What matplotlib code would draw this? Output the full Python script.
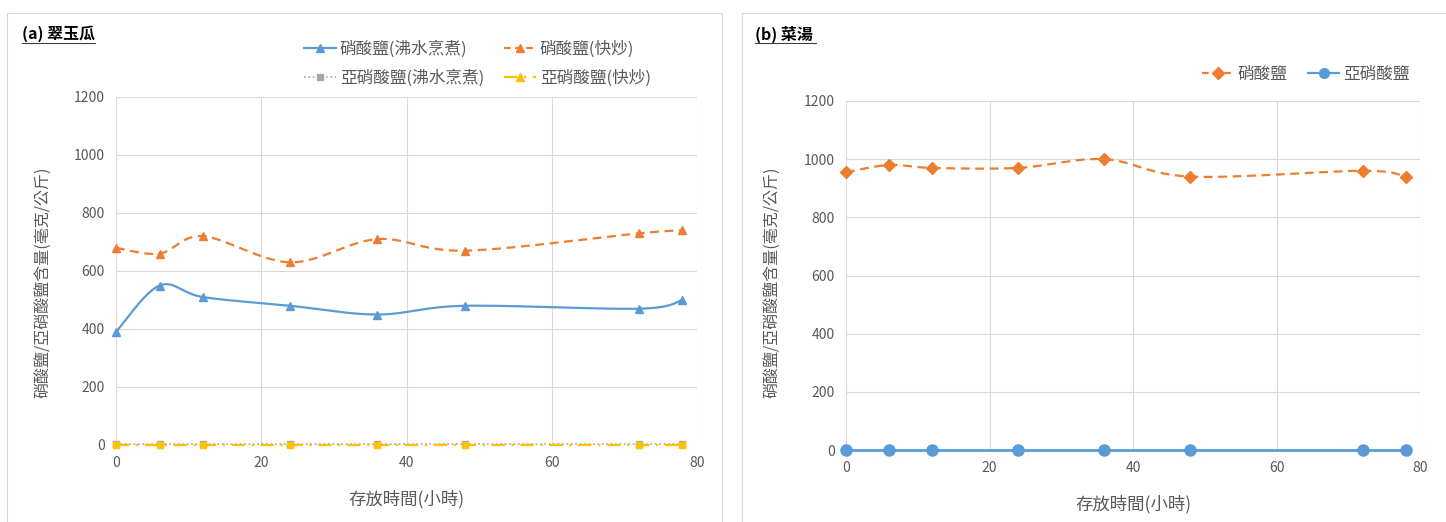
import numpy as np
import matplotlib.pyplot as plt
from matplotlib.lines import Line2D
from matplotlib.patches import Rectangle

plt.rcParams['font.family'] = ['Noto Sans CJK TC', 'DejaVu Sans']

# storage time (hours)
hours = [0, 6, 12, 24, 36, 48, 72, 78]

# (a) zucchini
zuc_nitrate_boil = [390, 550, 510, 480, 450, 480, 470, 500]
zuc_nitrate_fry = [680, 660, 720, 630, 710, 670, 730, 740]
zuc_nitrite_boil = [2, 2, 2, 2, 2, 2, 2, 2]
zuc_nitrite_fry = [1, 1, 1, 1, 1, 1, 1, 1]

# (b) soup
soup_nitrate = [955, 980, 970, 970, 1000, 940, 960, 940]
soup_nitrite = [0, 0, 0, 0, 0, 0, 0, 0]

BLUE = '#5B9BD5'
ORANGE = '#ED7D31'
GRAY = '#A5A5A5'
YELLOW = '#FFC000'
TXT = '#595959'


def smooth(x, y, n=30):
    # bezier smoothing like spreadsheet "smoothed line" charts
    x = np.asarray(x, float)
    y = np.asarray(y, float)
    px = np.concatenate([[x[0]], x, [x[-1]]])
    py = np.concatenate([[y[0]], y, [y[-1]]])
    xs, ys = [], []
    t = np.linspace(0, 1, n)
    for i in range(1, len(px) - 2):
        p0 = np.array([px[i], py[i]])
        p3 = np.array([px[i + 1], py[i + 1]])
        p1 = p0 + (np.array([px[i + 1], py[i + 1]]) - np.array([px[i - 1], py[i - 1]])) / 6
        p2 = p3 - (np.array([px[i + 2], py[i + 2]]) - np.array([px[i], py[i]])) / 6
        b = ((1 - t) ** 3)[:, None] * p0 + (3 * (1 - t) ** 2 * t)[:, None] * p1 \
            + (3 * (1 - t) * t ** 2)[:, None] * p2 + (t ** 3)[:, None] * p3
        xs.extend(b[:, 0])
        ys.extend(b[:, 1])
    return xs, ys


def series(ax, x, y, color, ls, marker, ms, lw=1.6):
    sx, sy = smooth(x, y)
    ax.plot(sx, sy, color=color, ls=ls, lw=lw, zorder=3, clip_on=False)
    ax.plot(x, y, ls='none', marker=marker, ms=ms, color=color, zorder=4, clip_on=False)


def style(ax, ylabel, label_xy):
    ax.set_xlim(0, 80)
    ax.set_ylim(0, 1200)
    ax.set_xticks([0, 20, 40, 60, 80])
    ax.set_yticks(range(0, 1201, 200))
    ax.grid(True, color='#D9D9D9', lw=0.8)
    ax.set_axisbelow(True)
    for s in ax.spines.values():
        s.set_visible(False)
    ax.tick_params(length=0, labelsize=10, labelcolor=TXT, pad=8)
    ax.set_xlabel('存放時間(小時)', fontsize=12.5, color=TXT, labelpad=14)
    ax.set_ylabel(ylabel, fontsize=11.5, color=TXT, va='center')
    ax.yaxis.set_label_coords(*label_xy)


fig = plt.figure(figsize=(14.46, 5.22), dpi=100)

# panel frames
fig.patches.append(Rectangle((7 / 1446, -0.01), 715 / 1446, 1 - 13 / 522 + 0.01,
                             transform=fig.transFigure, fill=False, ec='#D9D9D9', lw=0.8))
fig.patches.append(Rectangle((742 / 1446, -0.01), 710 / 1446, 1 - 13 / 522 + 0.01,
                             transform=fig.transFigure, fill=False, ec='#D9D9D9', lw=0.8))

ylab = '硝酸鹽/亞硝酸鹽含量(毫克/公斤)'

ax1 = fig.add_axes([116 / 1446, 1 - 445 / 522, 581 / 1446, 348 / 522])
series(ax1, hours, zuc_nitrate_boil, BLUE, '-', '^', 6)
series(ax1, hours, zuc_nitrate_fry, ORANGE, (0, (4, 2.5)), '^', 6)
series(ax1, hours, zuc_nitrite_boil, GRAY, ':', 's', 5, lw=1.2)
series(ax1, hours, zuc_nitrite_fry, YELLOW, (0, (6, 3, 1, 3)), 's', 5, lw=1.6)
style(ax1, ylab, (-0.126, 0.468))

ax2 = fig.add_axes([846 / 1446, 1 - 450 / 522, 574 / 1446, 349 / 522])
series(ax2, hours, soup_nitrate, ORANGE, (0, (4, 2.5)), 'D', 6)
series(ax2, hours, soup_nitrite, BLUE, '-', 'o', 8, lw=2)
style(ax2, ylab, (-0.129, 0.481))

# legends
h1 = [Line2D([], [], color=BLUE, ls='-', lw=1.6, marker='^', ms=6),
      Line2D([], [], color=ORANGE, ls=(0, (3, 2)), lw=1.6, marker='^', ms=6),
      Line2D([], [], color=GRAY, ls=':', lw=1.2, marker='s', ms=5),
      Line2D([], [], color=YELLOW, ls=(0, (6, 3, 1, 3)), lw=1.6, marker='^', ms=6)]
l1 = ['硝酸鹽(沸水烹煮)', '亞硝酸鹽(沸水烹煮)', '硝酸鹽(快炒)', '亞硝酸鹽(快炒)']
fig.legend([h1[0], h1[2], h1[1], h1[3]], l1, ncol=2, frameon=False,
           loc='upper left', bbox_to_anchor=(289 / 1446, 1 - 26 / 522),
           fontsize=12, labelcolor=TXT, handlelength=1.9, columnspacing=1.2,
           labelspacing=0.7, handletextpad=0.25)

h2 = [Line2D([], [], color=ORANGE, ls=(0, (3, 2)), lw=1.6, marker='D', ms=6),
      Line2D([], [], color=BLUE, ls='-', lw=1.6, marker='o', ms=7)]
fig.legend(h2, ['硝酸鹽', '亞硝酸鹽'], ncol=2, frameon=False,
           loc='upper left', bbox_to_anchor=(1187 / 1446, 1 - 51 / 522),
           fontsize=12, labelcolor=TXT, handlelength=1.9, columnspacing=1.2,
           handletextpad=0.25)

# panel titles with underline
for x0, txt, w in [(22, '(a) 翠玉瓜', 73), (755, '(b) 菜湯', 61)]:
    fig.text(x0 / 1446, 1 - 34 / 522, txt, fontsize=11.5, fontweight='bold',
             color='#000000', va='center', ha='left')
    fig.add_artist(Line2D([x0 / 1446, (x0 + w) / 1446], [1 - 43 / 522, 1 - 43 / 522],
                          color='#404040', lw=0.8, transform=fig.transFigure))

fig.savefig('out.png', dpi=100)
